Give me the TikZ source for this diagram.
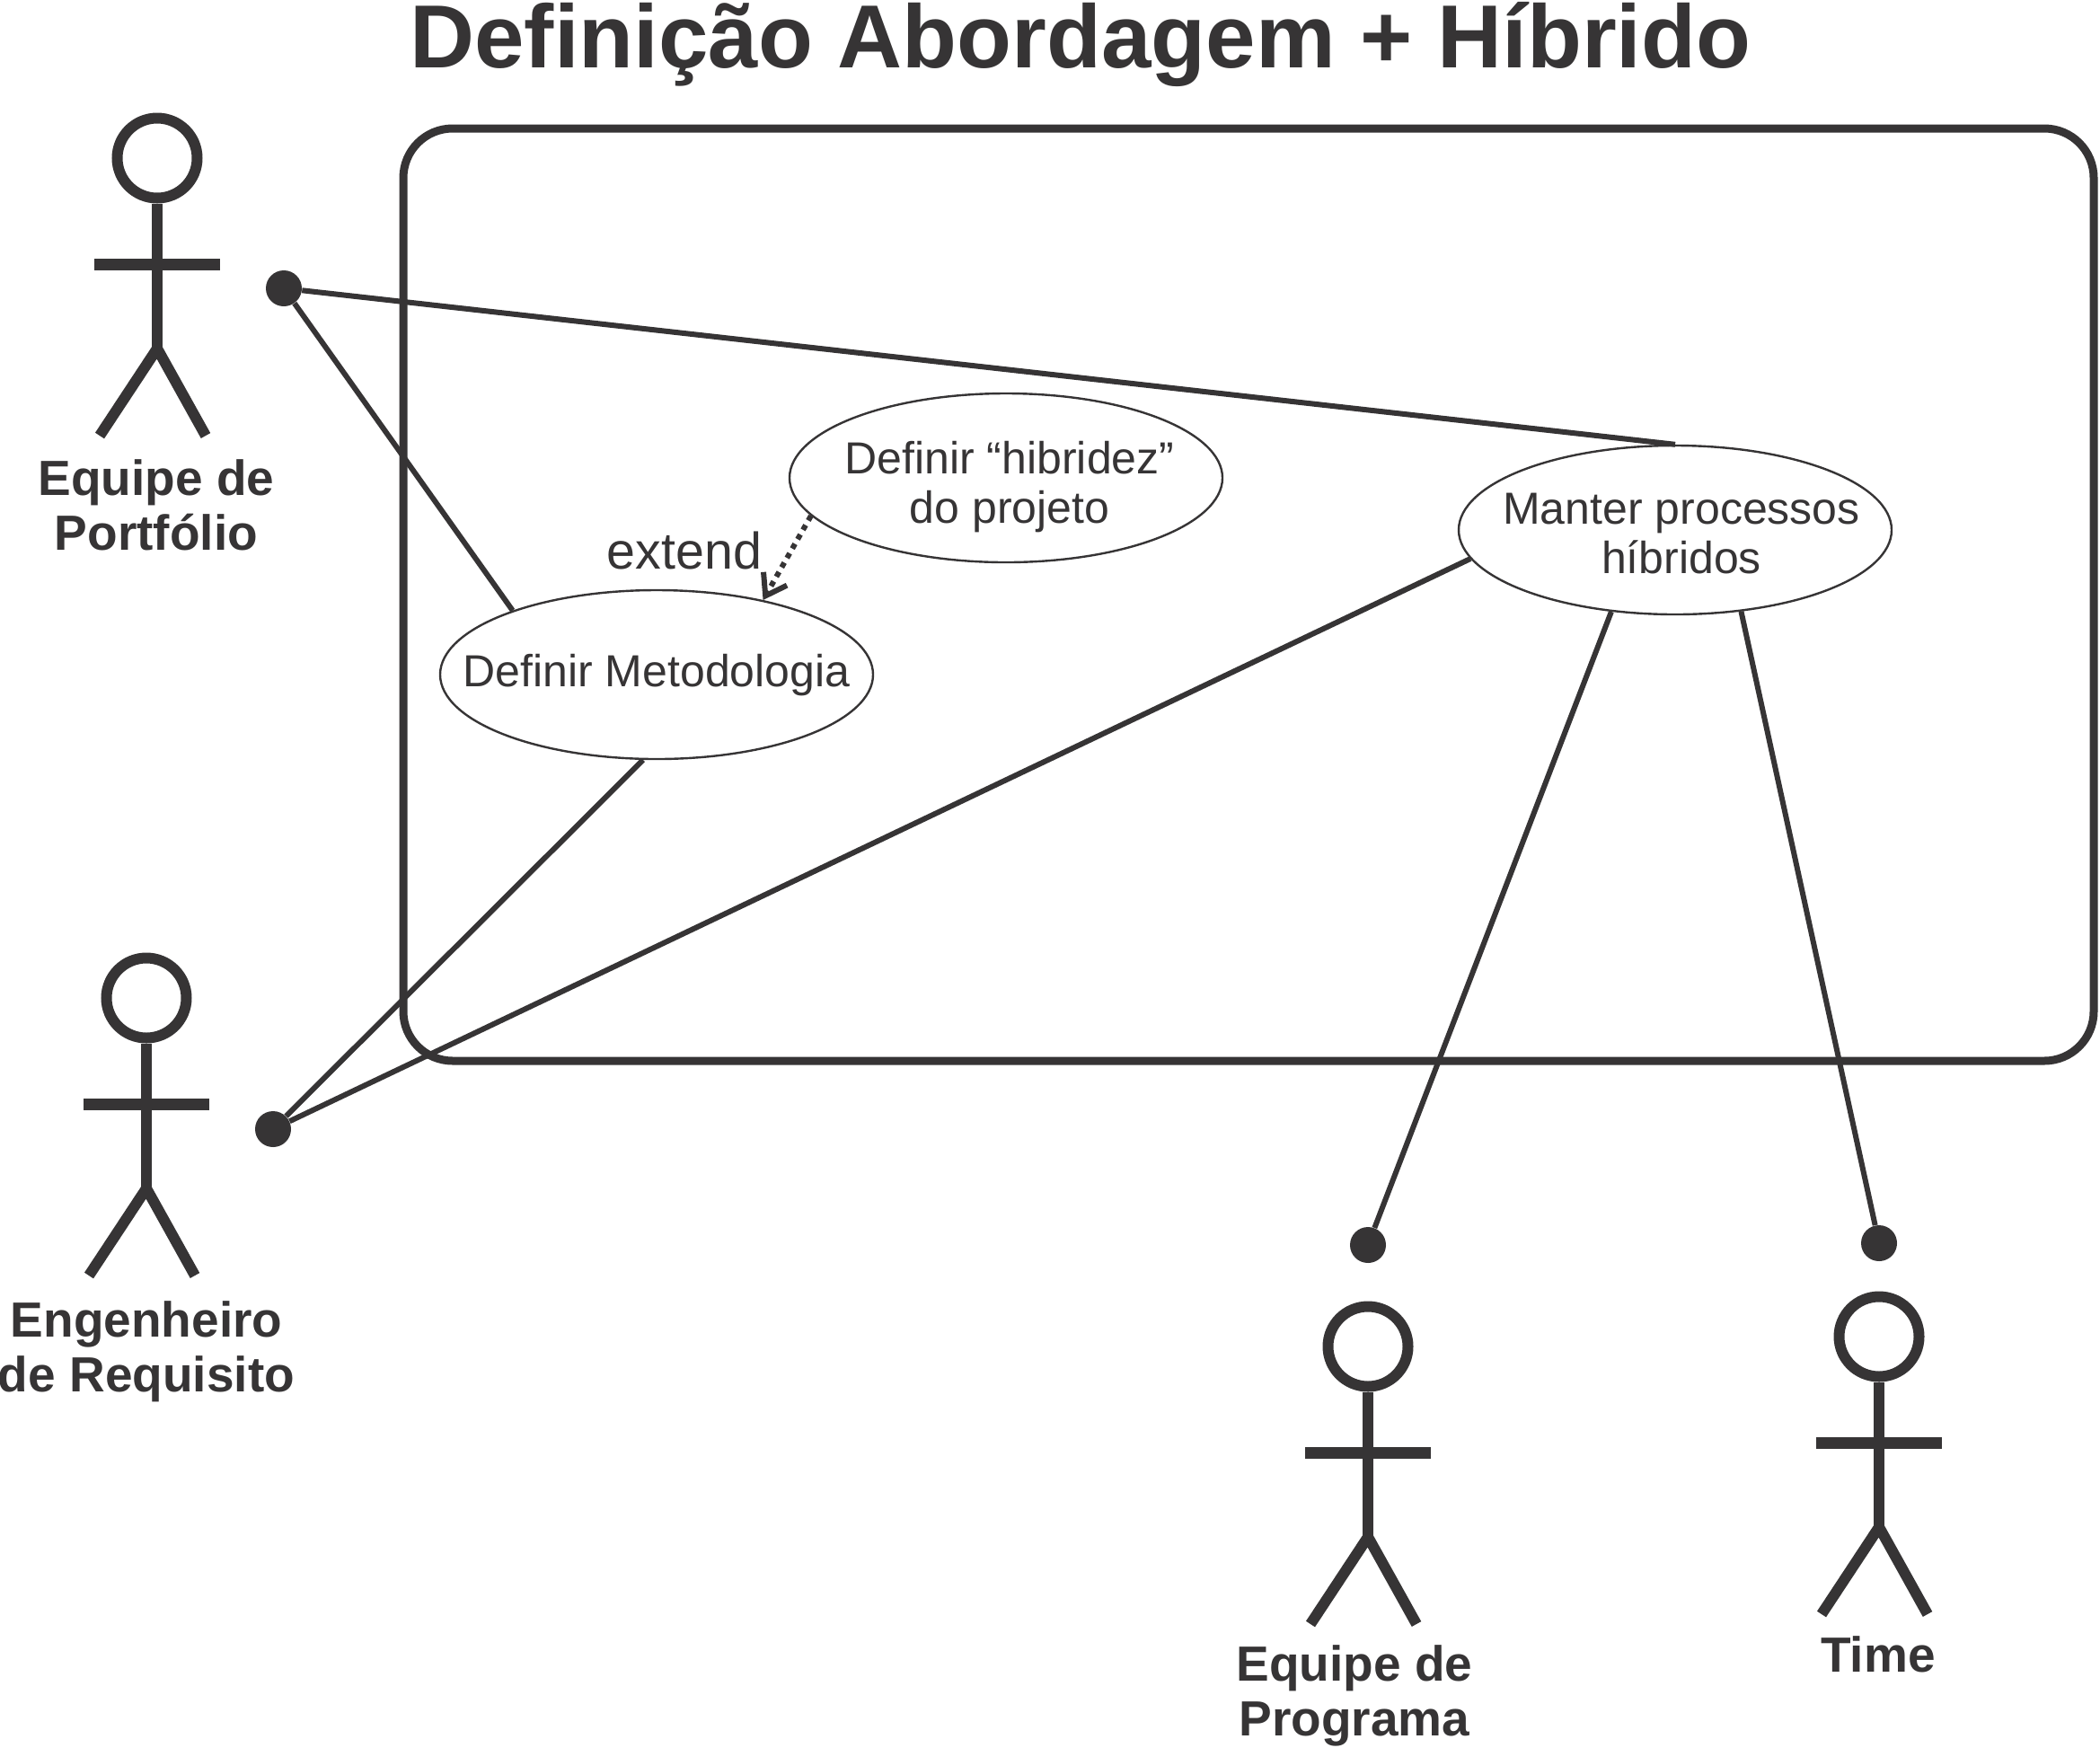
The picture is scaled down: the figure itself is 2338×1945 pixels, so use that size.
\documentclass[tikz,border=0pt]{standalone}
\usepackage{fontspec}
\setmainfont{Liberation Sans}
\usetikzlibrary{shapes.geometric,arrows.meta}
\definecolor{inkgray}{HTML}{363435}
% zero-size text block, so that the ellipse keeps its own size
\newcommand{\uctext}[3]{\makebox[0pt]{\hspace{#1}\raisebox{#2}[0pt][0pt]{\begin{tabular}{@{}c@{}}#3\end{tabular}}}}
\tikzset{
	usecase/.style={ellipse,draw=inkgray,line width=1.2pt,inner sep=0pt,minimum width=241pt,minimum height=94pt,text=inkgray,font=\fontsize{25}{27.5}\selectfont},
	actorhead/.style={circle,draw=inkgray,line width=6pt,inner sep=0pt,minimum size=44.5pt},
	actorlabel/.style={align=center,text=inkgray,font=\fontsize{27.5}{30.5}\selectfont\bfseries},
	enddot/.style={circle,fill=inkgray,inner sep=0pt,minimum size=20pt},
	assoc/.style={draw=inkgray,line width=3pt}
}

\begin{document}
\begin{tikzpicture}[x=0.5pt, y=-0.5pt]
	\useasboundingbox (0,0) rectangle (2338,1945);

	% Title
	\node[anchor=base,text=inkgray,font=\fontsize{49.85}{55}\selectfont\bfseries] (title) at (1203,75) {Definição Abordagem + Híbrido};

	% System boundary
	\draw[draw=inkgray,line width=4.5pt,rounded corners=27.5pt] (449,143) rectangle (2331,1181);

	% Use cases
	\node[usecase] (hibridez) at (1120,532) {\uctext{4pt}{-12pt}{Definir “hibridez”\\do projeto}};
	\node[usecase] (metodologia) at (731,751) {\uctext{0pt}{-7.5pt}{Definir Metodologia}};
	\node[usecase] (manter) at (1865,590) {\uctext{7pt}{-11.2pt}{Manter processos\\híbridos}};

	% Actors
	\foreach \px/\py/\lx/\ly/\nm/\txt in {175/176/174/612/portfolio/{Equipe de\\Portfólio},
			163/1111/163/1549/requisito/{Engenheiro\\de Requisito},
			1523/1499/1508/1932/programa/{Equipe de\\Programa},
			2092/1488/2091/1861/time/{Time}} {
		\node[actorhead] (head\nm) at (\px,\py) {};
		\draw[draw=inkgray,line width=6pt] (head\nm.south) -- (\px,\py+212);
		\draw[draw=inkgray,line width=6.5pt] (\px-70,\py+118) -- (\px+70,\py+118);
		\draw[draw=inkgray,line width=6pt,miter limit=2] (\px-64,\py+309) -- (\px,\py+212) -- (\px+54,\py+309);
		\node[actorlabel,anchor=base] (label\nm) at (\lx,\ly) {\txt};
	}

	% Association ends
	\node[enddot] (dotportfolio) at (316,321) {};
	\node[enddot] (dotrequisito) at (304,1257) {};
	\node[enddot] (dotprograma) at (1523,1386) {};
	\node[enddot] (dottime) at (2092,1384) {};

	% Associations
	\draw[assoc] (dotportfolio) -- (metodologia.156);
	\draw[assoc] (dotportfolio) -- (manter.north);
	\draw[assoc] (dotrequisito) -- (metodologia.261);
	\draw[assoc] (dotrequisito) -- (manter.188);
	\draw[assoc] (dotprograma) -- (manter.232);
	\draw[assoc] (dottime) -- (manter.309);

	% Extend
	\draw[draw=inkgray,line width=3pt,dash pattern=on 3pt off 3pt,-{Straight Barb[length=11pt,width=15pt,line width=3pt]}] (hibridez.191) -- (metodologia.35);
	\node[anchor=base,text=inkgray,font=\fontsize{28.7}{31}\selectfont] (extend) at (762,633) {extend};
\end{tikzpicture}
\end{document}
